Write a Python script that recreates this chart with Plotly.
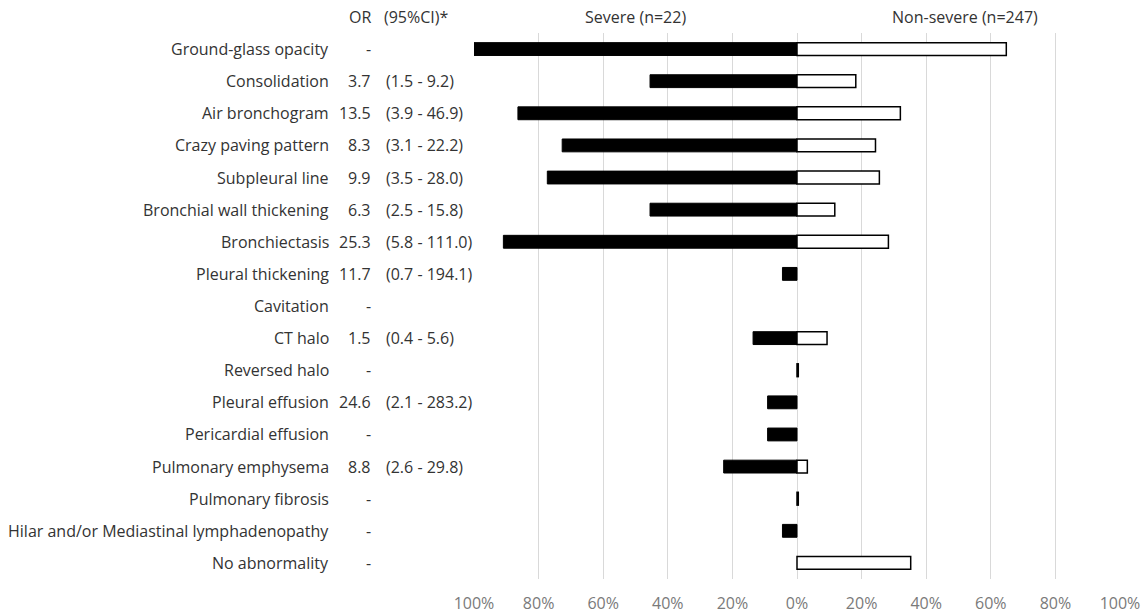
import plotly.graph_objects as go

# CT findings, percent of patients in each group
findings = [
    "Ground-glass opacity", "Consolidation", "Air bronchogram", "Crazy paving pattern",
    "Subpleural line", "Bronchial wall thickening", "Bronchiectasis", "Pleural thickening",
    "Cavitation", "CT halo", "Reversed halo", "Pleural effusion", "Pericardial effusion",
    "Pulmonary emphysema", "Pulmonary fibrosis", "Hilar and/or Mediastinal lymphadenopathy",
    "No abnormality",
]
severe_pct = [100.0, 45.5, 86.4, 72.7, 77.3, 45.5, 90.9, 4.5, 0.0, 13.6, 0.0, 9.1, 9.1,
              22.7, 0.0, 4.5, 0.0]
nonsevere_pct = [64.8, 18.2, 32.0, 24.3, 25.5, 11.7, 28.3, 0.0, 0.0, 9.3, 0.4, 0.0, 0.0,
                 3.2, 0.4, 0.0, 35.2]
odds_ratio = ["-", "3.7", "13.5", "8.3", "9.9", "6.3", "25.3", "11.7", "-", "1.5", "-",
              "24.6", "-", "8.8", "-", "-", "-"]
conf_int = ["", "(1.5 - 9.2)", "(3.9 - 46.9)", "(3.1 - 22.2)", "(3.5 - 28.0)", "(2.5 - 15.8)",
            "(5.8 - 111.0)", "(0.7 - 194.1)", "", "(0.4 - 5.6)", "", "(2.1 - 283.2)", "",
            "(2.6 - 29.8)", "", "", ""]

tick_vals = [-100, -80, -60, -40, -20, 0, 20, 40, 60, 80, 100]
tick_text = ["100%", "80%", "60%", "40%", "20%", "0%", "20%", "40%", "60%", "80%", "100%"]

W, H = 1146, 614
L, R, T, B = 474, 26, 33, 35
plot_w = W - L - R
plot_h = H - T - B


def px_to_paper_x(px):
    return (px - L) / plot_w


def px_to_paper_y(py):
    return 1 - (py - T) / plot_h


def nonzero(values):
    # empty categories get no bar at all (not even an outline)
    return [v if v > 0 else None for v in values]


FONT = "Open Sans"
TXT = "#333333"

fig = go.Figure()
fig.add_trace(go.Bar(
    y=findings, x=[-v if v is not None else None for v in nonzero(severe_pct)],
    orientation="h", width=0.4,
    marker=dict(color="black", line=dict(color="black", width=1)),
    name="Severe", showlegend=False, hoverinfo="skip",
))
fig.add_trace(go.Bar(
    y=findings, x=nonzero(nonsevere_pct), orientation="h", width=0.4,
    marker=dict(color="white", line=dict(color="black", width=1.5)),
    name="Non-severe", showlegend=False, hoverinfo="skip",
))

annotations = []
for name, orv, ci in zip(findings, odds_ratio, conf_int):
    annotations.append(dict(x=px_to_paper_x(331), xref="paper", y=name, yref="y",
                            text=name, showarrow=False, xanchor="right", yanchor="middle"))
    annotations.append(dict(x=px_to_paper_x(373), xref="paper", y=name, yref="y",
                            text=orv, showarrow=False, xanchor="right", yanchor="middle"))
    if ci:
        annotations.append(dict(x=px_to_paper_x(384), xref="paper", y=name, yref="y",
                                text=ci, showarrow=False, xanchor="left", yanchor="middle"))

hy = px_to_paper_y(17)
annotations += [
    dict(x=px_to_paper_x(373), xref="paper", y=hy, yref="paper", text="OR",
         showarrow=False, xanchor="right", yanchor="middle"),
    dict(x=px_to_paper_x(382), xref="paper", y=hy, yref="paper", text="(95%CI)*",
         showarrow=False, xanchor="left", yanchor="middle"),
    dict(x=-50, xref="x", y=hy, yref="paper", text="Severe (n=22)",
         showarrow=False, xanchor="center", yanchor="middle"),
    dict(x=52, xref="x", y=hy, yref="paper", text="Non-severe (n=247)",
         showarrow=False, xanchor="center", yanchor="middle"),
]

fig.update_layout(
    width=W, height=H,
    margin=dict(l=L, r=R, t=T, b=B, pad=0, autoexpand=False),
    paper_bgcolor="white", plot_bgcolor="white",
    barmode="overlay",
    font=dict(family=FONT, size=16, color=TXT),
    annotations=annotations,
    xaxis=dict(range=[-100, 100], tickvals=tick_vals, ticktext=tick_text,
               showgrid=True, gridcolor="#d9d9d9", gridwidth=1,
               zeroline=False, showline=False, ticks="", automargin=False,
               tickfont=dict(family=FONT, size=16, color="#7a7a7a"),
               ticklabelstandoff=13),
    yaxis=dict(categoryorder="array", categoryarray=findings, autorange="reversed",
               showticklabels=False, showgrid=False, zeroline=False, showline=False,
               ticks="", automargin=False),
)

fig.write_html("out.html")
